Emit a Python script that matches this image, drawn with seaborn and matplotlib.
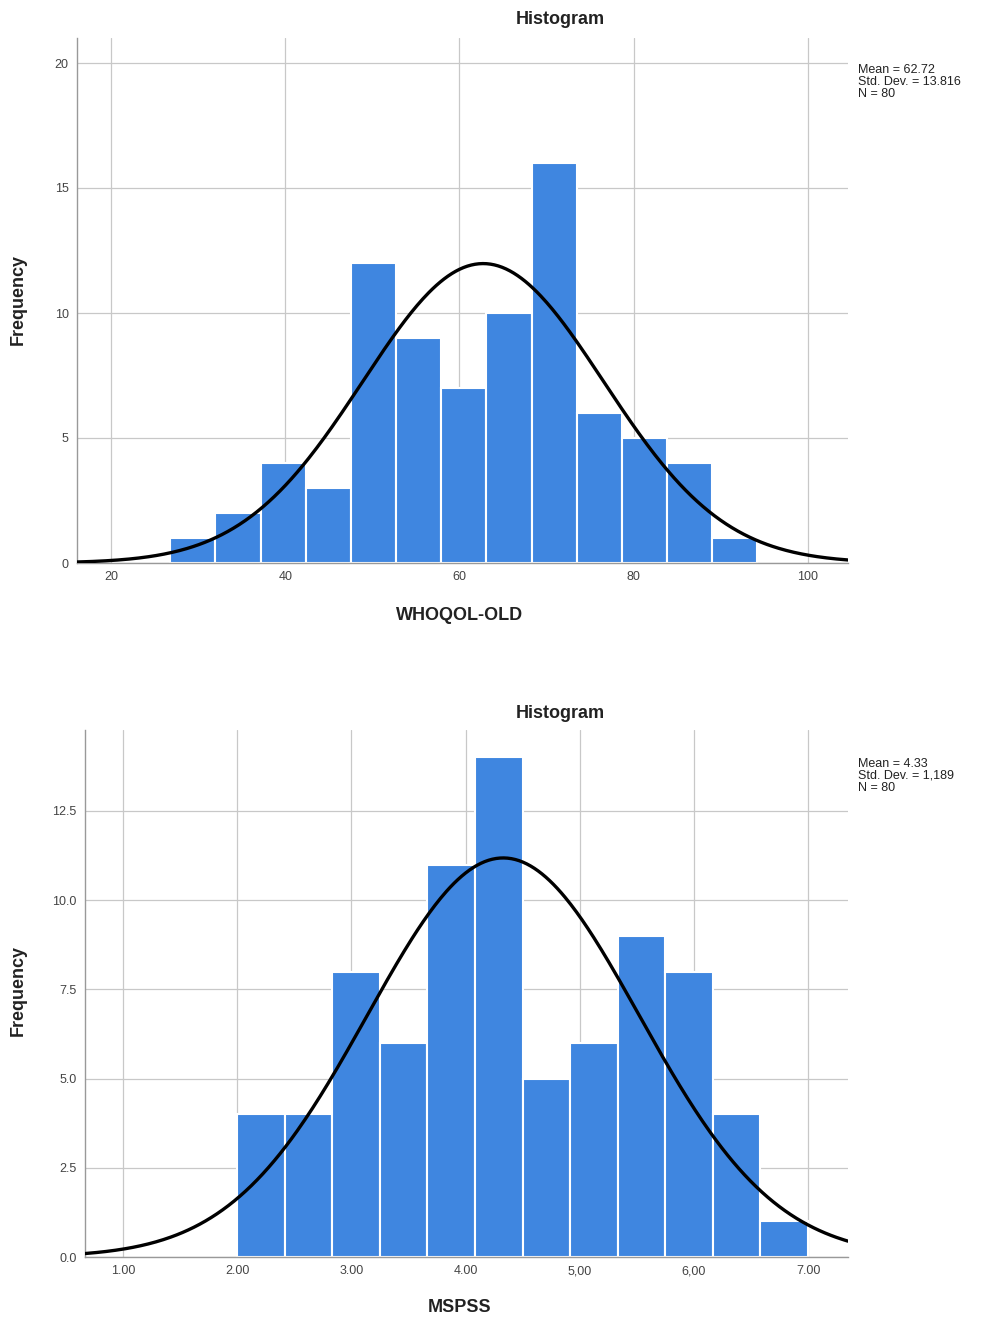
import numpy as np
import pandas as pd
import matplotlib
matplotlib.use("Agg")
import matplotlib.pyplot as plt
import seaborn as sns

# ---- data ----
who_edges = [26.8, 31.99, 37.17, 42.36, 47.54, 52.73, 57.91, 63.1, 68.28, 73.47, 78.65, 83.84, 89.02, 94.2]
who_counts = [1, 2, 4, 3, 12, 9, 7, 10, 16, 6, 5, 4, 1]
who_mean, who_sd, who_n = 62.72, 13.816, 80
who_xticks = [20, 40, 60, 80, 100]
who_xticklabels = ["20", "40", "60", "80", "100"]
who_yticks = [0, 5, 10, 15, 20]
who_yticklabels = ["0", "5", "10", "15", "20"]
who_stats = "Mean = 62.72\nStd. Dev. = 13.816\nN = 80"

msp_edges = [2.0, 2.4167, 2.8333, 3.25, 3.6667, 4.0833, 4.5, 4.9167, 5.3333, 5.75, 6.1667, 6.5833, 7.0]
msp_counts = [4, 4, 8, 6, 11, 14, 5, 6, 9, 8, 4, 1]
msp_mean, msp_sd, msp_n = 4.33, 1.189, 80
msp_xticks = [1, 2, 3, 4, 5, 6, 7]
msp_xticklabels = ["1.00", "2.00", "3.00", "4.00", "5,00", "6,00", "7.00"]
msp_yticks = [0, 2.5, 5, 7.5, 10, 12.5]
msp_yticklabels = ["0.0", "2.5", "5.0", "7.5", "10.0", "12.5"]
msp_stats = "Mean = 4.33\nStd. Dev. = 1,189\nN = 80"

BAR = "#3f86e0"
GRID = "#c8c8c8"

sns.set_theme(style="white")
plt.rcParams['font.family'] = ['Liberation Sans', 'DejaVu Sans']

fig = plt.figure(figsize=(9.85, 13.23), dpi=100)
W, H = 985, 1323


def panel(rect, edges, counts, mean, sd, n, xlim, ylim, xticks, xtl, yticks, ytl,
          xlabel, title_y, xlabel_y, freq_y, stats, stats_y):
    l, t, r, b = rect
    ax = fig.add_axes([l / W, 1 - b / H, (r - l) / W, (b - t) / H])
    e = np.array(edges)
    centers = (e[:-1] + e[1:]) / 2
    df = pd.DataFrame({"x": centers, "w": counts})
    sns.histplot(data=df, x="x", weights="w", bins=list(edges), ax=ax,
                 color=BAR, alpha=1, edgecolor="white", linewidth=1.5, zorder=2)
    bw = float(np.mean(np.diff(e)))
    xs = np.linspace(xlim[0], xlim[1], 400)
    ys = n * bw / (sd * np.sqrt(2 * np.pi)) * np.exp(-0.5 * ((xs - mean) / sd) ** 2)
    sns.lineplot(x=xs, y=ys, ax=ax, color="black", linewidth=2.4, zorder=3)
    ax.set_xlim(*xlim)
    ax.set_ylim(*ylim)
    ax.set_xticks(xticks)
    ax.set_xticklabels(xtl)
    ax.set_yticks(yticks)
    ax.set_yticklabels(ytl)
    ax.tick_params(axis="both", labelsize=9, colors="#444444", length=0, pad=6)
    ax.grid(True, color=GRID, linewidth=0.9, zorder=0)
    ax.set_axisbelow(True)
    for s in ["top", "right"]:
        ax.spines[s].set_visible(False)
    for s in ["left", "bottom"]:
        ax.spines[s].set_color("#999999")
        ax.spines[s].set_linewidth(1.0)
    ax.set_xlabel("")
    ax.set_ylabel("")
    fig.text(560 / W, 1 - title_y / H, "Histogram", ha="center", va="center",
             fontsize=13, fontweight="bold", color="#222222")
    fig.text(460 / W, 1 - xlabel_y / H, xlabel, ha="center", va="center",
             fontsize=13, fontweight="bold", color="#222222")
    fig.text(18 / W, 1 - freq_y / H, "Frequency", ha="center", va="center",
             fontsize=13, fontweight="bold", color="#222222", rotation=90)
    fig.text(858 / W, 1 - stats_y / H, stats, ha="left", va="top",
             fontsize=9, color="#222222", linespacing=1.0)
    return ax


panel((77, 38, 848, 563), who_edges, who_counts, who_mean, who_sd, who_n,
      (16.1, 104.6), (0, 21), who_xticks, who_xticklabels, who_yticks, who_yticklabels,
      "WHOQOL-OLD", 19, 615, 300, who_stats, 64)

panel((85, 730, 848, 1257), msp_edges, msp_counts, msp_mean, msp_sd, msp_n,
      (0.667, 7.35), (0, 14.77), msp_xticks, msp_xticklabels, msp_yticks, msp_yticklabels,
      "MSPSS", 713, 1307, 990, msp_stats, 758)

fig.savefig("out.png", dpi=100, facecolor="white")
